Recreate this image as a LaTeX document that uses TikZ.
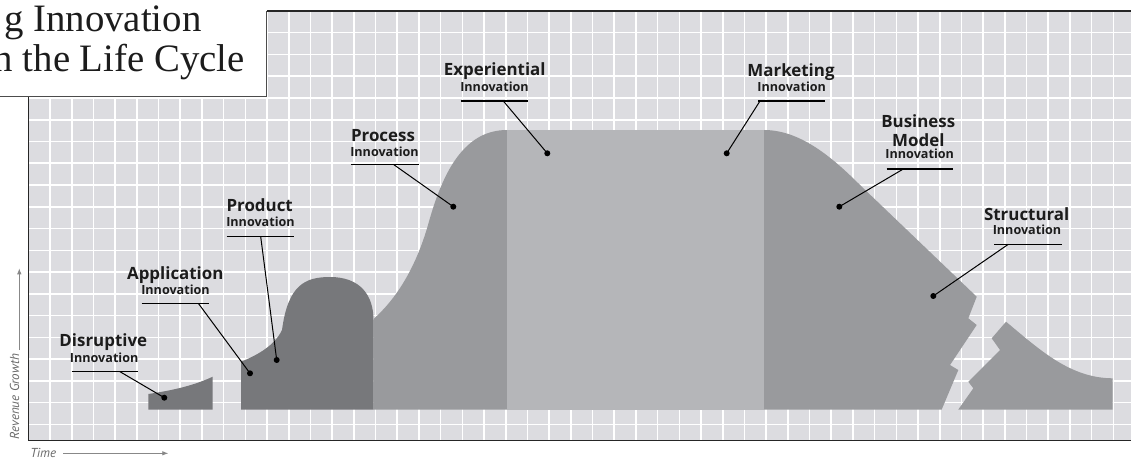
\documentclass[tikz,border=0pt]{standalone}
\usepackage{fontspec}
\setmainfont{Liberation Serif}
\newfontfamily\labfont{Open Sans}
\newfontfamily\axfont{PT Sans}
\usetikzlibrary{arrows.meta}
\definecolor{bgc}{HTML}{DCDCE0}
\definecolor{darkc}{HTML}{77787B}
\definecolor{midc}{HTML}{999A9D}
\definecolor{lightc}{HTML}{B5B6B9}
\definecolor{txtc}{HTML}{1C1C1C}
\definecolor{axc}{HTML}{6A6A6A}
\begin{document}
\begin{tikzpicture}[x=1pt,y=-1pt,
  bigl/.style={anchor=base,inner sep=0pt,text=txtc,font=\labfont\bfseries\fontsize{16.9}{16.9}\selectfont},
  smalll/.style={anchor=base,inner sep=0pt,text=txtc,font=\labfont\bfseries\fontsize{12.6}{12.6}\selectfont},
  uline/.style={line width=1.1pt,black},
  leader/.style={line width=1pt,black},
  dotn/.style={circle,fill=black,inner sep=0pt,minimum size=6pt},
  gridl/.style={white,line width=1.6pt},
  framel/.style={line width=1.4pt,black!85},
  axlab/.style={inner sep=0pt,text=axc,font=\axfont\itshape\fontsize{13}{13}\selectfont},
  axarrow/.style={axc!80,line width=0.8pt,-{Latex[length=6pt,width=4.5pt]}},
  titl/.style={anchor=base east,inner sep=0pt,text=txtc,font=\fontsize{38.8}{40}\selectfont},
]
\useasboundingbox (0,0) rectangle (1131,460);
\fill[white] (0,0) rectangle (1131,460);
\fill[bgc] (28.5,11) rectangle (1131,440.7);
% grid
\foreach \i in {0,...,49} \draw[gridl] ({50+21.7*\i},11) -- ({50+21.7*\i},440.7);
\foreach \j in {0,...,18} \draw[gridl] (28.5,{32.7+21.76*\j}) -- (1131,{32.7+21.76*\j});
% shapes
\fill[darkc] (148.3,409.5) -- (148.3,394) .. controls (175,390) and (195,385) .. (212.7,376.7) -- (212.7,409.5) -- cycle;
\fill[darkc] (241,409.5) -- (241,361.7) .. controls (258,355) and (275,345) .. (282,330)
  .. controls (288,285) and (305,277) .. (330,277) .. controls (360,277) and (373.5,295) .. (373.5,320)
  -- (373.5,409.5) -- cycle;
\fill[midc] (373.5,409.5) -- (373.5,319) .. controls (395,300) and (415,270) .. (428,225)
  .. controls (443,170) and (465,130) .. (507,130) -- (507,409.5) -- cycle;
\fill[lightc] (507,130) rectangle (764,409.5);
\fill[midc] (764,409.5) -- (764,130) .. controls (800,130) and (832,157) .. (860,185)
  -- (976.7,296.7) -- (968.3,318.3) -- (976.7,325) -- (950,365) -- (958.3,370) -- (941.7,409.5) -- cycle;
\fill[midc] (1006,321.7) .. controls (1040,350) and (1070,378) .. (1112.5,378.3) -- (1112.5,409.5)
  -- (958.3,409.5) -- (973.3,388.3) -- (968.3,381.7) -- (1000,350) -- (991.7,338.3) -- cycle;
% frame
\draw[framel] (266.7,11) -- (1131,11);
\draw[framel] (28.5,96.7) -- (28.5,440.7) -- (1131,440.7);
% title box
\fill[white] (-5,-5) rectangle (266.7,96.7);
\draw[line width=1.3pt,black!70] (266.7,11) -- (266.7,96.7) -- (-5,96.7);
\node[titl] (t1) at (201.7,31.7) {g Innovation};
\node[titl] (t2) at (245,71.7) {n the Life Cycle};
% axes
\node[axlab,rotate=90] (rg) at (14.7,396.5) {Revenue Growth};
\coordinate (rgs) at (19.3,350);
\coordinate (rge) at (19.3,268.3);
\draw[axarrow] (rgs) -- (rge);
\node[axlab] (time) at (43.3,453.3) {Time};
\coordinate (tms) at (63.3,453.3);
\coordinate (tme) at (168.3,453.3);
\draw[axarrow] (tms) -- (tme);
% labels
\node[bigl] (disA) at (103.3,346.7) {Disruptive};
\node[smalll] (disB) at (104.2,362.3) {Innovation};
\coordinate (disL) at (71.7,371.7); \coordinate (disR) at (138.3,371.7); \coordinate (disU) at (120,371.7);
\node[bigl] (appA) at (175.3,279) {Application};
\node[smalll] (appB) at (175.5,294.7) {Innovation};
\coordinate (appL) at (141.7,303.3); \coordinate (appR) at (209.3,303.3); \coordinate (appU) at (198.3,303.3);
\node[bigl] (proA) at (259.7,211) {Product};
\node[smalll] (proB) at (260.5,226.3) {Innovation};
\coordinate (proL) at (226.7,236.7); \coordinate (proR) at (294,236.7); \coordinate (proU) at (260.7,236.7);
\node[bigl] (pcsA) at (383,141) {Process};
\node[smalll] (pcsB) at (384.5,156.7) {Innovation};
\coordinate (pcsL) at (351,164.3); \coordinate (pcsR) at (419,164.3); \coordinate (pcsU) at (393.3,164.3);
\node[bigl] (expA) at (494.7,75.7) {Experiential};
\node[smalll] (expB) at (494.5,91.3) {Innovation};
\coordinate (expL) at (460.7,101); \coordinate (expR) at (528.3,101); \coordinate (expU) at (503.3,101);
\node[bigl] (mktA) at (791,76) {Marketing};
\node[smalll] (mktB) at (791.7,91.3) {Innovation};
\coordinate (mktL) at (758.3,101); \coordinate (mktR) at (825,101); \coordinate (mktU) at (760,101);
\node[bigl] (busA) at (918.3,127.7) {Business};
\node[bigl] (busM) at (918.3,146) {Model};
\node[smalll] (busB) at (919.7,158.5) {Innovation};
\coordinate (busL) at (886.7,169); \coordinate (busR) at (952.7,169); \coordinate (busU) at (903.3,169);
\node[bigl] (strA) at (1026.7,220) {Structural};
\node[smalll] (strB) at (1027,234.5) {Innovation};
\coordinate (strL) at (994,244.3); \coordinate (strR) at (1061.7,244.3); \coordinate (strU) at (1008.3,244.3);
% underlines
\foreach \n in {dis,app,pro,pcs,exp,mkt,bus,str} \draw[uline] (\n L) -- (\n R);
% dots
\node[dotn] (disD) at (164.3,397.7) {};
\node[dotn] (appD) at (250,373.3) {};
\node[dotn] (proD) at (276.7,360) {};
\node[dotn] (pcsD) at (453.3,206.7) {};
\node[dotn] (expD) at (547.3,153.3) {};
\node[dotn] (mktD) at (726.7,153.3) {};
\node[dotn] (busD) at (839.3,206.7) {};
\node[dotn] (strD) at (933.3,296) {};
% leaders
\foreach \n in {dis,app,pro,pcs,exp,mkt,bus,str} \draw[leader] (\n U) -- (\n D.center);
\end{tikzpicture}
\end{document}
